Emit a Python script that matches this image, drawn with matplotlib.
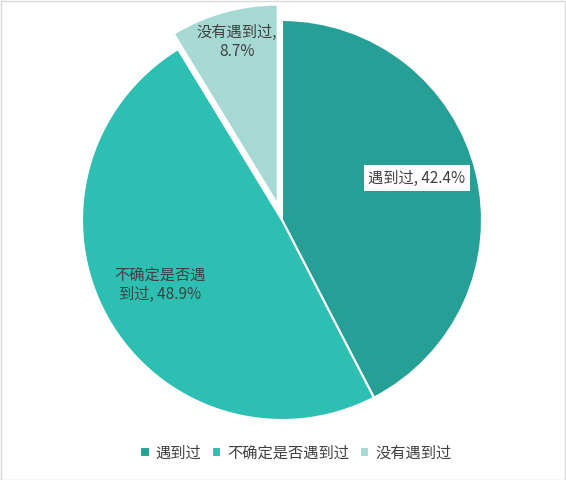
import matplotlib.pyplot as plt
from matplotlib.patches import Rectangle

plt.rcParams['font.family'] = ['Noto Sans CJK SC', 'DejaVu Sans']

categories = ['遇到过', '不确定是否遇到过', '没有遇到过']
values = [42.4, 48.9, 8.7]
colors = ['#26a096', '#2ebfb3', '#a6d9d3']
explode = [0, 0, 16]   # in pixels, the axes is laid out in pixel units

fig = plt.figure(figsize=(5.66, 4.8), dpi=100)
ax = fig.add_axes([0, 0, 1, 1])

wedges, _ = ax.pie(values, colors=colors, explode=explode, startangle=90,
                   counterclock=False, center=(282, 260), radius=200,
                   wedgeprops=dict(edgecolor='white', linewidth=1.5))
ax.set_xlim(0, 566)
ax.set_ylim(0, 480)
ax.set_aspect('equal')
ax.axis('off')

txt = '#404040'
ax.text(417, 302, '遇到过, 42.4%', ha='center', va='center', fontsize=11, color=txt,
        bbox=dict(facecolor='white', edgecolor='none', pad=3))
ax.text(160, 195, '不确定是否遇\n到过, 48.9%', ha='center', va='center', fontsize=11,
        color=txt, linespacing=1.1)
ax.text(237, 438, '没有遇到过,\n8.7%', ha='center', va='center', fontsize=11,
        color=txt, linespacing=1.1)

ax.legend(wedges, categories, loc='center', bbox_to_anchor=(296 / 566, 1 - 453 / 480),
          ncol=3, frameon=False, fontsize=11, handlelength=0.6, handleheight=0.6,
          handletextpad=0.4, columnspacing=0.7, labelcolor=txt)

fig.patches.append(Rectangle((0.5 / 566, 0.5 / 480), 1 - 1.5 / 566, 1 - 1.5 / 480,
                             transform=fig.transFigure, fill=False,
                             edgecolor='#d9d9d9', linewidth=1))

fig.savefig('out.png', dpi=100)
